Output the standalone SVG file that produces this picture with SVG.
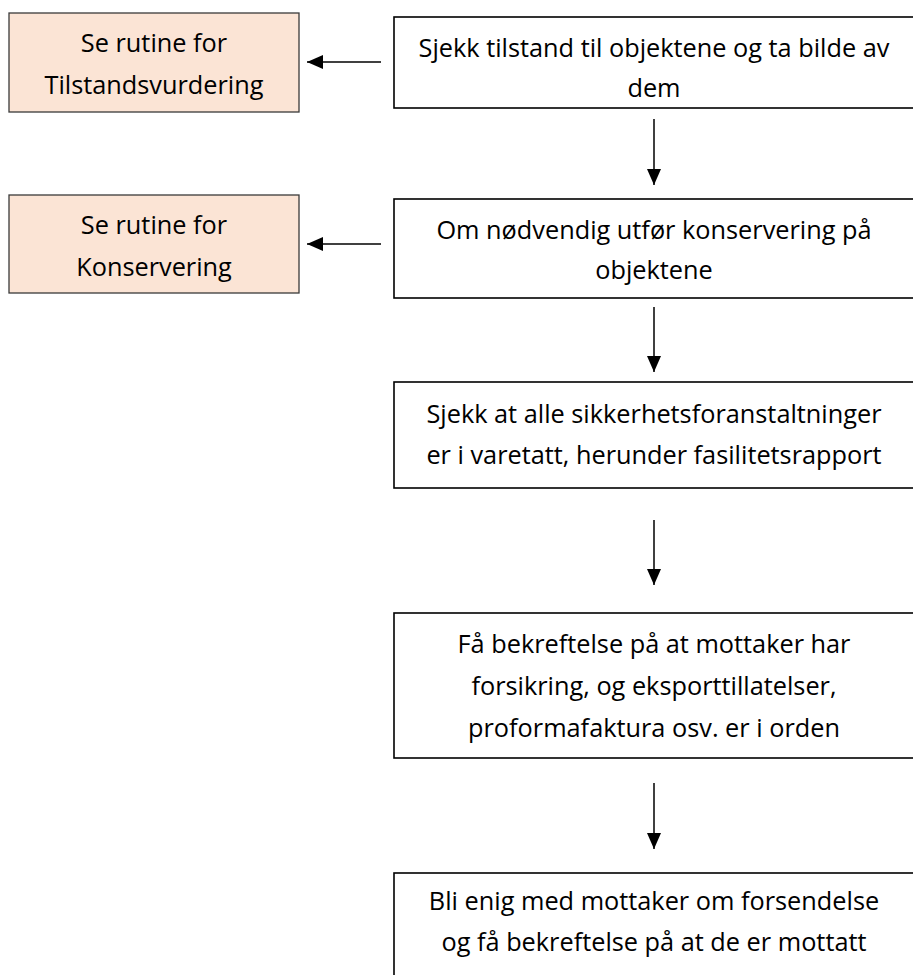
<svg xmlns="http://www.w3.org/2000/svg" width="913" height="975" viewBox="0 0 913 975">
  <style>
    .box { fill: #ffffff; stroke: #000000; stroke-width: 1.6; }
    .ref { fill: #fbe4d5; stroke: #3a3a3a; stroke-width: 1.3; }
    .lbl { font-family: "Open Sans", "Noto Sans", sans-serif; font-size: 25.3px; fill: #000000; text-anchor: middle; }
    .edge { stroke: #000000; stroke-width: 1.5; fill: none; marker-end: url(#head); }
  </style>
  <defs>
    <marker id="head" markerUnits="userSpaceOnUse" markerWidth="16" markerHeight="14" refX="16" refY="7" orient="auto">
      <path d="M0,0 L16,7 L0,14 Z" fill="#000000"/>
    </marker>
  </defs>
  <rect width="913" height="975" fill="#ffffff"/>

  <!-- reference routines -->
  <g id="ref-tilstand">
    <rect class="ref" x="9" y="13" width="290" height="99"/>
    <text class="lbl" x="154" y="52">Se rutine for</text>
    <text class="lbl" x="154" y="94">Tilstandsvurdering</text>
  </g>
  <g id="ref-konservering">
    <rect class="ref" x="9" y="195" width="290" height="98"/>
    <text class="lbl" x="154" y="234">Se rutine for</text>
    <text class="lbl" x="154" y="276">Konservering</text>
  </g>

  <!-- main steps -->
  <g id="step-tilstand">
    <rect class="box" x="394" y="17" width="522" height="91"/>
    <text class="lbl" x="654" y="57">Sjekk tilstand til objektene og ta bilde av</text>
    <text class="lbl" x="654" y="97">dem</text>
  </g>
  <g id="step-konservering">
    <rect class="box" x="394" y="199" width="522" height="99"/>
    <text class="lbl" x="654" y="239">Om nødvendig utfør konservering på</text>
    <text class="lbl" x="654" y="279">objektene</text>
  </g>
  <g id="step-sikkerhet">
    <rect class="box" x="394" y="382" width="522" height="106"/>
    <text class="lbl" x="654" y="423">Sjekk at alle sikkerhetsforanstaltninger</text>
    <text class="lbl" x="654" y="464">er i varetatt, herunder fasilitetsrapport</text>
  </g>
  <g id="step-bekreftelse">
    <rect class="box" x="394" y="613" width="522" height="145"/>
    <text class="lbl" x="654" y="653">Få bekreftelse på at mottaker har</text>
    <text class="lbl" x="654" y="695">forsikring, og eksporttillatelser,</text>
    <text class="lbl" x="654" y="737">proformafaktura osv. er i orden</text>
  </g>
  <g id="step-forsendelse">
    <rect class="box" x="394" y="873" width="522" height="120"/>
    <text class="lbl" x="654" y="910">Bli enig med mottaker om forsendelse</text>
    <text class="lbl" x="654" y="951">og få bekreftelse på at de er mottatt</text>
  </g>

  <!-- connectors -->
  <g id="connectors">
    <line class="edge" x1="381" y1="62" x2="307" y2="62"/>
    <line class="edge" x1="381" y1="244" x2="307" y2="244"/>
    <line class="edge" x1="654" y1="119" x2="654" y2="185"/>
    <line class="edge" x1="654" y1="307" x2="654" y2="372"/>
    <line class="edge" x1="654" y1="520" x2="654" y2="585"/>
    <line class="edge" x1="654" y1="783" x2="654" y2="849"/>
  </g>
</svg>
